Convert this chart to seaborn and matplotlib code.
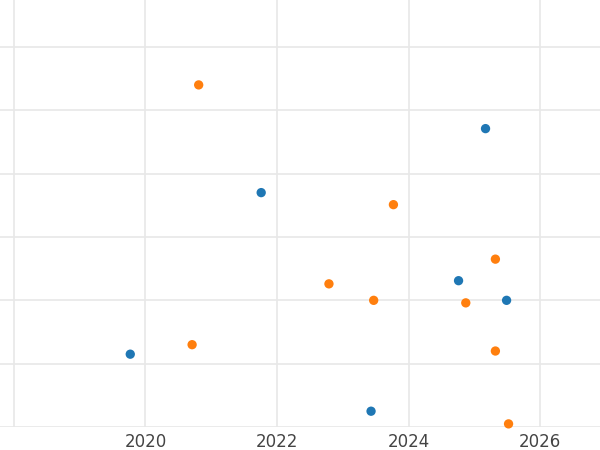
import matplotlib
matplotlib.use("Agg")
import matplotlib.pyplot as plt
import seaborn as sns
import pandas as pd

blue_x = [2019.77, 2021.76, 2025.17, 2024.76, 2025.49, 2023.43]
blue_y = [1.15, 3.70, 4.71, 2.31, 2.00, 0.25]
orange_x = [2020.81, 2023.77, 2025.32, 2022.79, 2023.47, 2024.87, 2020.71, 2025.32, 2025.52]
orange_y = [5.40, 3.51, 2.65, 2.26, 2.00, 1.96, 1.30, 1.20, 0.05]

df = pd.DataFrame({
    "x": blue_x + orange_x,
    "y": blue_y + orange_y,
    "s": ["a"] * len(blue_x) + ["b"] * len(orange_x),
})

sns.set_style("white")
fig = plt.figure(figsize=(6, 4.5), dpi=100)
ax = fig.add_axes([0, 0.051, 1, 0.949])
sns.scatterplot(data=df, x="x", y="y", hue="s", palette=["#1f77b4", "#ff7f0e"],
                s=45, edgecolor="none", legend=False, ax=ax, zorder=3, clip_on=False)
ax.set_xlim(2017.79, 2026.91)
ax.set_ylim(0, 6.74)
ax.set_xticks([2018, 2020, 2022, 2024, 2026])
ax.set_xticklabels(["", "2020", "2022", "2024", "2026"])
ax.set_yticks([0, 1, 2, 3, 4, 5, 6])
ax.set_yticklabels([])
ax.grid(True, color="#e8e8e8", linewidth=1.2)
ax.tick_params(axis="both", length=0, labelsize=12, labelcolor="#444444", pad=4)
for sp in ax.spines.values():
    sp.set_visible(False)
ax.set_xlabel("")
ax.set_ylabel("")
fig.savefig("out.png", dpi=100)
